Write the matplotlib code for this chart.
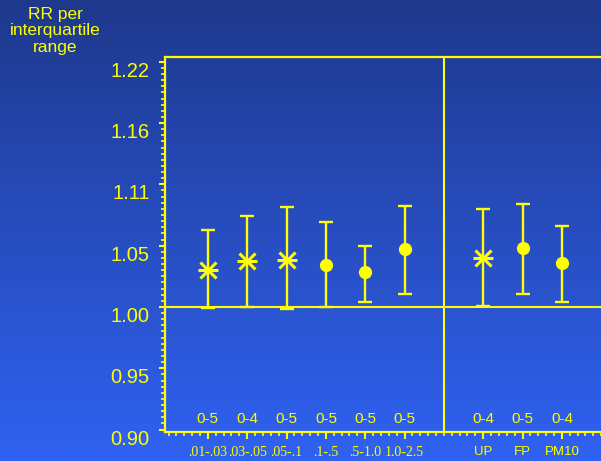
import numpy as np
import matplotlib
matplotlib.use("Agg")
import matplotlib.pyplot as plt
from matplotlib.ticker import FixedLocator, FixedFormatter, NullFormatter, MultipleLocator
import matplotlib.transforms as mtransforms

# data (relative risks with 95% CI)
xpos = [1, 2, 3, 4, 5, 6, 8, 9, 10]
rr = [1.031, 1.039, 1.040, 1.035, 1.029, 1.049, 1.041, 1.050, 1.037]
lo = [0.999, 1.000, 0.998, 1.000, 1.004, 1.011, 1.001, 1.011, 1.004]
hi = [1.066, 1.078, 1.086, 1.073, 1.052, 1.087, 1.084, 1.089, 1.069]
star = [True, True, True, False, False, False, True, False, False]
lags = ["0-5", "0-4", "0-5", "0-5", "0-5", "0-5", "0-4", "0-5", "0-4"]
xlabels = [".01-.03", ".03-.05", ".05-.1", ".1-.5", ".5-1.0", "1.0-2.5", "UP", "FP", "PM10"]
ytick_labels = ["0.90", "0.95", "1.00", "1.05", "1.11", "1.16", "1.22"]

YEL = "#ffff00"
step = 0.0507  # log spacing of the ticks
yticks = np.exp(step * np.arange(-2, 5))
yminor = np.exp(step * np.arange(-20, 45) / 10)

fig = plt.figure(figsize=(6.01, 4.61), dpi=100)

# background gradient
bg = fig.add_axes([0, 0, 1, 1], zorder=-10)
top = np.array([30, 56, 140]) / 255
bot = np.array([48, 98, 242]) / 255
t = np.linspace(0, 1, 256)[:, None]
grad = top[None, :] * (1 - t) + bot[None, :] * t
bg.imshow(grad[:, None, :], aspect="auto", extent=[0, 1, 0, 1])
bg.axis("off")

ax = fig.add_axes([165 / 601, 1 - 432 / 461, 437 / 601, 375 / 461])
ax.patch.set_alpha(0)
ax.set_yscale("log")
ax.set_xlim(-0.09, 11.02)
ax.set_ylim(np.exp(-0.1034), np.exp(0.2067))

for x, r, l, h, s in zip(xpos, rr, lo, hi, star):
    ax.errorbar([x], [r], yerr=[[r - l], [h - r]], fmt="none", ecolor=YEL,
                elinewidth=1.7, capsize=5, capthick=1.7, zorder=3)
    if s:
        # asterisk = x + horizontal bar
        ax.plot(x, r, marker="x", ms=12, mew=2.2, color=YEL, zorder=4)
        ax.plot(x, r, marker="_", ms=15, mew=2.2, color=YEL, zorder=4)
    else:
        ax.plot(x, r, marker="o", ms=8.5, color=YEL, zorder=4)

ax.axhline(1.0, color=YEL, lw=1.5)
ax.axvline(7, color=YEL, lw=1.5)

tr = mtransforms.blended_transform_factory(ax.transData, ax.transAxes)
for x, lab in zip(xpos, lags):
    ax.text(x, 0.036, lab, transform=tr, ha="center", va="center",
            color=YEL, fontsize=11, family="Liberation Sans")

for side in ["left", "top", "bottom"]:
    ax.spines[side].set_color(YEL)
    ax.spines[side].set_linewidth(1.6)
ax.spines["right"].set_visible(False)

ax.yaxis.set_major_locator(FixedLocator(yticks))
ax.yaxis.set_major_formatter(FixedFormatter(ytick_labels))
ax.yaxis.set_minor_locator(FixedLocator(yminor))
ax.yaxis.set_minor_formatter(NullFormatter())
ax.set_xticks(xpos)
ax.set_xticklabels(xlabels)
ax.xaxis.set_minor_locator(MultipleLocator(0.2))

ax.tick_params(axis="both", which="both", colors=YEL, direction="out")
ax.tick_params(axis="y", which="major", length=4, width=1.5, labelsize=14.5, pad=7)
ax.tick_params(axis="y", which="minor", length=3, width=1.2)
ax.tick_params(axis="x", which="major", length=5, width=1.5, pad=5)
ax.tick_params(axis="x", which="minor", length=3, width=1.2)
ax.tick_params(top=False, right=False, which="both")

for lab in ax.get_yticklabels():
    lab.set_family("Liberation Sans")
    lab.set_verticalalignment("top")
for i, lab in enumerate(ax.get_xticklabels()):
    if i < 6:
        lab.set_family("Liberation Serif")
        lab.set_fontsize(10)
    else:
        lab.set_family("Liberation Sans")
        lab.set_fontsize(9.5)

fig.text(55 / 601, 1 - 31 / 461, "RR per\ninterquartile\nrange", ha="center", va="center",
         color=YEL, fontsize=12.5, family="Liberation Sans", linespacing=1.1)

fig.savefig("out.png", dpi=100)
